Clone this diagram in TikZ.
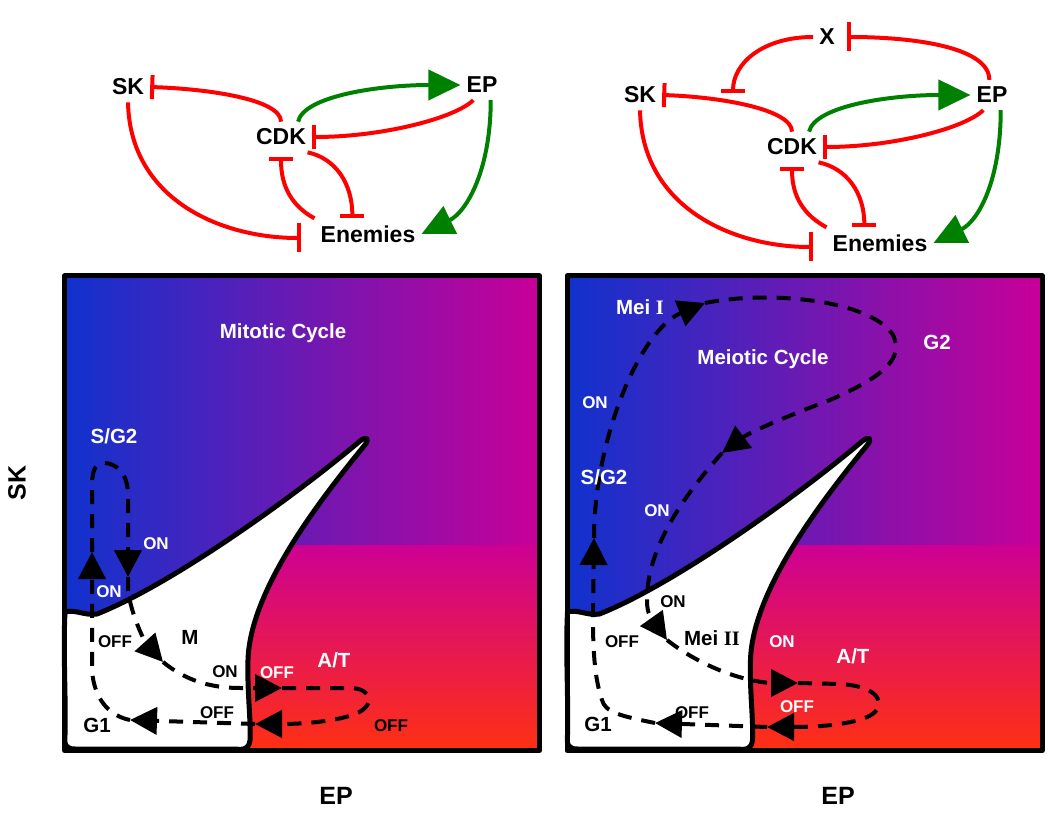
\documentclass[tikz,border=0pt]{standalone}
\usepackage{fontspec}
\setsansfont{Liberation Sans}
\newfontfamily\romanfont{Liberation Serif}
\usetikzlibrary{arrows.meta}
\definecolor{panelblue}{RGB}{16,50,205}
\definecolor{panelmag}{RGB}{200,0,152}
\definecolor{lowmag}{RGB}{205,0,148}
\definecolor{lowred}{RGB}{255,48,18}
\definecolor{netgreen}{RGB}{0,128,0}

\begin{document}
\begin{tikzpicture}[x=1pt,y=-1pt]
	\tikzstyle{gene}=[font=\sffamily\bfseries\fontsize{23}{26}\selectfont, inner xsep=6pt, inner ysep=7pt]
	\tikzstyle{inh}=[red, line width=4pt, -{Bar[width=24pt]}]
	\tikzstyle{inhl}=[red, line width=4pt, -{Bar[width=29pt]}]
	\tikzstyle{act}=[netgreen, line width=4pt, -{Triangle[length=32pt,width=30pt]}]
	\tikzstyle{border}=[line width=5pt, line join=round]
	\tikzstyle{flow}=[line width=4pt, dash pattern=on 14pt off 10pt, -{Triangle[length=27pt,width=27pt]}]
	\tikzstyle{statelab}=[inner sep=0pt, font=\sffamily\bfseries\fontsize{20.5}{24}\selectfont]
	\tikzstyle{switchlab}=[inner sep=0pt, font=\sffamily\bfseries\fontsize{17}{20}\selectfont]
	\tikzstyle{axislab}=[inner sep=0pt, font=\sffamily\bfseries\fontsize{25}{28}\selectfont]
	\useasboundingbox (0,0) rectangle (1050,821);

	%% Phase planes
	\foreach \dx in {0pt,502.5pt}{
	  \begin{scope}[xshift=\dx]
	    \shade[left color=panelblue, right color=panelmag] (64.5,276) rectangle (539.5,750.5);
	    \shade[top color=lowmag, bottom color=lowred] (245,545) rectangle (539.5,750.5);
	    \filldraw[border, fill=white] (65,612) .. controls (75,609) and (85,616) .. (97,614)
	      .. controls (170,585) and (290,500) .. (360,441)
	      .. controls (366,436) and (371,438) .. (364,446)
	      .. controls (320,500) and (250,590) .. (248,660)
	      .. controls (247,690) and (251,720) .. (250,740)
	      .. controls (249,749) and (244,750) .. (235,749)
	      -- (75,749) .. controls (66,749) and (64,745) .. (65,735)
	      .. controls (66,700) and (63,650) .. (65,612) -- cycle;
	    \draw[border] (64.5,276) rectangle (539.5,750.5);
	  \end{scope}
	}

	%% Axis labels
	\node[axislab, rotate=90] (ysk) at (17,483) {SK};
	\node[axislab] (xep1) at (336,796) {EP};
	\node[axislab] (xep2) at (838,796) {EP};

	%% Mitotic network
	\node[gene] (sk1) at (128,87) {SK};
	\node[gene] (cdk1) at (281,137) {CDK};
	\node[gene] (ep1) at (482,85) {EP};
	\node[gene] (en1) at (368,234) {Enemies};

	\draw[inh] (cdk1.north) .. controls +(0,-22) and +(60,2) .. (sk1.east);
	\draw[act] (cdk1.42) .. controls +(6,-26) and +(-80,0) .. (ep1.west);
	\draw[inh] (ep1.240) .. controls +(-18,18) and +(70,0) .. (cdk1.east);
	\draw[inhl] (sk1.south) .. controls +(2,97) and +(-80,0) .. ([xshift=-14pt,yshift=-4pt]en1.west);
	\draw[inh] (en1.north west) .. controls +(-22,-12) and +(0,30) .. ([yshift=-5pt]cdk1.south);
	\draw[inh] (cdk1.-30) .. controls +(28,6) and +(0,-35) .. (en1.135);
	\draw[act] (ep1.-60) .. controls +(0,70) and +(45,-22) .. (en1.east);

	%% Meiotic network
	\node[gene] (x2) at (827,37) {X};
	\node[gene] (sk2) at (640,95) {SK};
	\node[gene] (cdk2) at (792,147) {CDK};
	\node[gene] (ep2) at (992,95) {EP};
	\node[gene] (en2) at (880,243) {Enemies};
	\coordinate (xhit) at (733,93);

	\draw[inh] (x2.west) .. controls +(-50,0) and +(0,-30) .. (xhit);
	\draw[inhl] (ep2.100) .. controls +(0,-32) and +(70,0) .. ([xshift=6pt]x2.east);
	\draw[inh] (cdk2.north) .. controls +(0,-22) and +(60,2) .. (sk2.east);
	\draw[act] (cdk2.42) .. controls +(6,-26) and +(-80,0) .. (ep2.west);
	\draw[inh] (ep2.240) .. controls +(-18,18) and +(70,0) .. (cdk2.east);
	\draw[inhl] (sk2.south) .. controls +(2,97) and +(-80,0) .. ([xshift=-14pt,yshift=-4pt]en2.west);
	\draw[inh] (en2.north west) .. controls +(-22,-12) and +(0,30) .. ([yshift=-5pt]cdk2.south);
	\draw[inh] (cdk2.-30) .. controls +(28,6) and +(0,-35) .. (en2.135);
	\draw[act] (ep2.-60) .. controls +(0,70) and +(45,-22) .. (en2.east);

	%% Mitotic cycle trajectory
	\coordinate (a1) at (92,552);
	\coordinate (a2) at (128,577);
	\coordinate (a3) at (163,662);
	\coordinate (a4) at (282,688);
	\coordinate (a5) at (255,724);
	\coordinate (a6) at (130,720);
	\draw[flow] (a6) .. controls (110,716) and (94,700) .. (92,670) -- (a1);
	\draw[flow] (a1) -- (92,485) .. controls (92,468) and (97,463) .. (104,463)
	  .. controls (115,463) and (128,472) .. (128,495) -- (a2);
	\draw[flow] (a2) -- (128,590) .. controls (131,615) and (145,642) .. (a3);
	\draw[flow] (a3) .. controls (185,680) and (210,688) .. (240,688) -- (a4);
	\draw[flow] (a4) -- (350,688) .. controls (372,688) and (376,706) .. (355,714)
	  .. controls (340,720) and (310,724) .. (a5);
	\draw[flow] (a5) -- (a6);

	%% Meiotic cycle trajectory
	\coordinate (b1) at (594,538);
	\coordinate (b2) at (705,303);
	\coordinate (b3) at (722,453);
	\coordinate (b4) at (667,640);
	\coordinate (b5) at (798,683);
	\coordinate (b6) at (767,727);
	\coordinate (b7) at (655,723);
	\draw[flow] (b7) .. controls (620,716) and (605,712) .. (602,700)
	  .. controls (597,685) and (593,665) .. (593,620) -- (b1);
	\draw[flow] (b1) .. controls (594,440) and (640,330) .. (b2);
	\draw[flow] (b2) .. controls (770,290) and (870,300) .. (893,335)
	  .. controls (905,360) and (880,378) .. (830,400)
	  .. controls (790,415) and (750,432) .. (b3);
	\draw[flow] (b3) .. controls (680,500) and (647,550) .. (647,600)
	  .. controls (647,608) and (648,612) .. (650,616) -- (b4);
	\draw[flow] (b4) .. controls (695,662) and (735,680) .. (770,683) -- (b5);
	\draw[flow] (b5) -- (840,684) .. controls (875,686) and (885,700) .. (875,712)
	  .. controls (865,722) and (830,727) .. (b6);
	\draw[flow] (b6) -- (b7);

	%% Mitotic labels
	\node[statelab, white] (mit) at (283,333) {Mitotic Cycle};
	\node[statelab, white] (sg1) at (114,436) {S/G2};
	\node[switchlab, white] (on11) at (156,544) {ON};
	\node[switchlab, white] (on12) at (109,592) {ON};
	\node[switchlab] (off11) at (115,642) {OFF};
	\node[statelab] (m1) at (190,637) {M};
	\node[switchlab] (on13) at (225,672) {ON};
	\node[switchlab, white] (off12) at (277,673) {OFF};
	\node[statelab, white] (at1) at (334,660) {A/T};
	\node[switchlab] (off13) at (217,713) {OFF};
	\node[statelab] (g11) at (97,725) {G1};
	\node[switchlab] (off14) at (391,726) {OFF};

	%% Meiotic labels
	\node[statelab, white] (mei1) at (640,307) {Mei {\romanfont I}};
	\node[statelab, white] (meio) at (763,359) {Meiotic Cycle};
	\node[statelab, white] (g22) at (937,342) {G2};
	\node[switchlab, white] (on21) at (595,403) {ON};
	\node[statelab, white] (sg2) at (604,477) {S/G2};
	\node[switchlab, white] (on22) at (657,511) {ON};
	\node[switchlab] (on23) at (673,602) {ON};
	\node[switchlab] (off21) at (622,642) {OFF};
	\node[statelab] (mei2) at (712,638) {Mei {\romanfont II}};
	\node[switchlab, white] (on24) at (782,642) {ON};
	\node[statelab, white] (at2) at (853,656) {A/T};
	\node[switchlab, white] (off22) at (797,707) {OFF};
	\node[switchlab] (off23) at (692,713) {OFF};
	\node[statelab] (g12) at (598,724) {G1};
\end{tikzpicture}
\end{document}
